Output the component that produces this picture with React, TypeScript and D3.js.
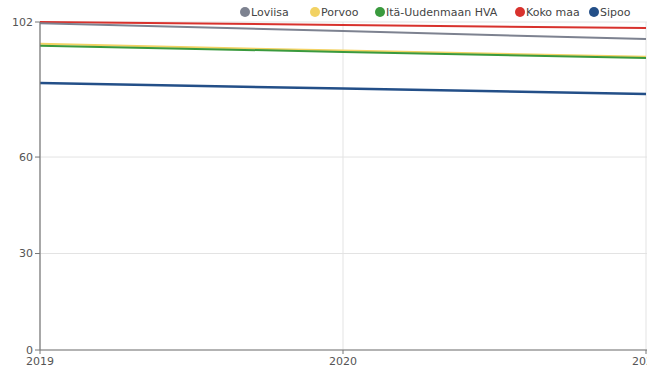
import React from "react";
import * as d3 from "d3";

const years = [2019, 2020, 2021];
const yTicks = [0, 30, 60, 102];
const seriesNames = ["Loviisa", "Porvoo", "Itä-Uudenmaan HVA", "Koko maa", "Sipoo"];
const seriesColors = ["#7d8290", "#f2d263", "#3a9a3e", "#d8322d", "#234f88"];
const loviisa = [101.6, 99.2, 96.7];
const porvoo = [95.2, 93.1, 91.2];
const itaUusimaa = [94.6, 92.7, 90.8];
const kokoMaa = [102.0, 101.1, 100.1];
const sipoo = [83.0, 81.3, 79.6];
const seriesValues = [loviisa, porvoo, itaUusimaa, kokoMaa, sipoo];
const legendX = [245, 315, 380, 520, 594];

export default function App() {
  const W = 647, H = 369;
  const x = d3.scaleLinear().domain([2019, 2021]).range([40, 646]);
  const y = d3.scaleLinear().domain([0, 102]).range([350, 22]);
  const line = d3.line<number>().x((_, i) => x(years[i])).y((d) => y(d));
  const drawOrder = [3, 0, 1, 2, 4];
  const font = "'DejaVu Sans', Verdana, sans-serif";
  return (
    <svg width={W} height={H} style={{ position: "absolute", left: 0, top: 0 }} fontFamily={font}>
      <rect width={W} height={H} fill="#fff" />
      {yTicks.map((t) => (
        <line key={"gy" + t} x1={40} x2={W} y1={y(t)} y2={y(t)} stroke="#e3e3e3" strokeWidth={1} />
      ))}
      {years.map((yr) => (
        <line key={"gx" + yr} x1={x(yr)} x2={x(yr)} y1={22} y2={350} stroke="#e3e3e3" strokeWidth={1} />
      ))}
      {drawOrder.map((i) => (
        <path key={seriesNames[i]} d={line(seriesValues[i]) || ""} fill="none" stroke={seriesColors[i]}
          strokeWidth={i === 4 ? 2.5 : 2} />
      ))}
      <line x1={40} x2={40} y1={22} y2={350} stroke="#777" strokeWidth={1.2} />
      <line x1={40} x2={W} y1={350} y2={350} stroke="#777" strokeWidth={1.2} />
      {yTicks.map((t) => (
        <g key={"yt" + t}>
          <line x1={35} x2={40} y1={y(t)} y2={y(t)} stroke="#777" />
          <text x={33} y={y(t)} dy="0.35em" textAnchor="end" fontSize={11} fill="#555">{t}</text>
        </g>
      ))}
      {years.map((yr) => (
        <g key={"xt" + yr}>
          <line x1={x(yr)} x2={x(yr)} y1={350} y2={354} stroke="#777" />
          <text x={x(yr)} y={365} textAnchor="middle" fontSize={11} fill="#555">{yr}</text>
        </g>
      ))}
      {seriesNames.map((n, i) => (
        <g key={"lg" + n}>
          <circle cx={legendX[i]} cy={12} r={5} fill={seriesColors[i]} />
          <text x={legendX[i] + 6} y={12} dy="0.35em" fontSize={11} fill="#444">{n}</text>
        </g>
      ))}
    </svg>
  );
}
